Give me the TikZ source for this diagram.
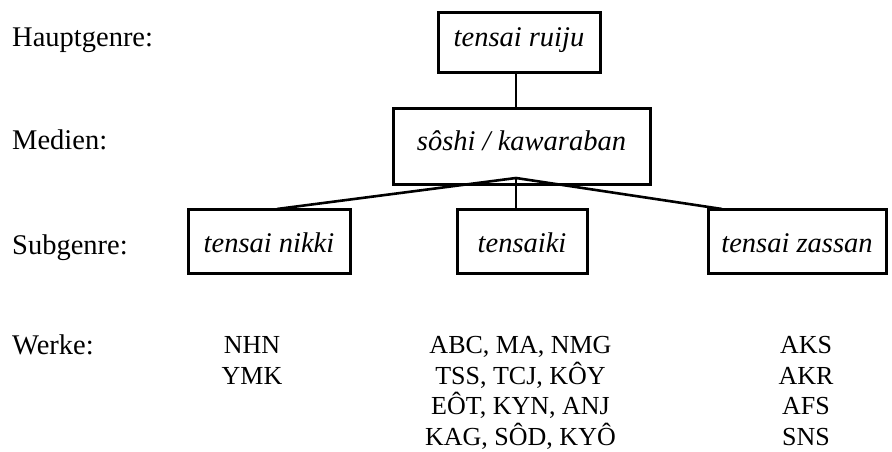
\documentclass[tikz,border=0pt]{standalone}
\usepackage{fontspec}
\setmainfont{Liberation Serif}
\begin{document}
\begin{tikzpicture}[x=1pt,y=-1pt,
  lbl/.style={anchor=base west,inner sep=0pt,font=\fontsize{28.5}{34}\selectfont},
  box/.style={draw,line width=3pt,inner sep=0pt,font=\fontsize{28.5}{34}\selectfont\itshape},
  topbox/.style={box,text height=17pt,text depth=9pt},
  subbox/.style={box,text height=30pt,text depth=8pt,minimum height=64pt},
  works/.style={anchor=north,inner sep=0pt,align=center,font=\fontsize{26}{30.5}\selectfont},
  conn/.style={line width=2.6pt}]
\useasboundingbox (0,0) rectangle (892,452);
% row labels
\node[lbl] (lh) at (12,47) {Hauptgenre:};
\node[lbl] (lm) at (12,149) {Medien:};
\node[lbl] (ls) at (12,254) {Subgenre:};
\node[lbl] (lw) at (12,354) {Werke:};
% boxes
\node[topbox,minimum width=162pt,minimum height=60pt] (ruiju) at (519,43) {tensai ruiju};
\node[topbox,minimum width=257pt,minimum height=76pt] (medien) at (521.5,146) {sôshi / kawaraban};
\node[subbox,minimum width=162pt] (nikki) at (269,241) {tensai nikki};
\node[subbox,minimum width=130pt] (tensaiki) at (522,241) {tensaiki};
\node[subbox,minimum width=178pt] (zassan) at (797,241) {tensai zassan};
% connectors
\coordinate (apex) at (516,178);
\coordinate (nikkitop) at (277,209);
\coordinate (zassantop) at (722,209);
\draw[conn] (ruiju.south -| apex) -- (medien.north -| apex);
\draw[conn] (apex) -- (nikkitop);
\draw[conn] (apex) -- (tensaiki.north -| apex);
\draw[conn] (apex) -- (zassantop);
% works
\node[works] (w1) at (252,336.5) {NHN\\YMK};
\node[works] (w2) at (520.5,336.5) {ABC, MA, NMG\\TSS, TCJ, KÔY\\EÔT, KYN, ANJ\\KAG, SÔD, KYÔ};
\node[works] (w3) at (806,336.5) {AKS\\AKR\\AFS\\SNS};
\end{tikzpicture}
\end{document}
